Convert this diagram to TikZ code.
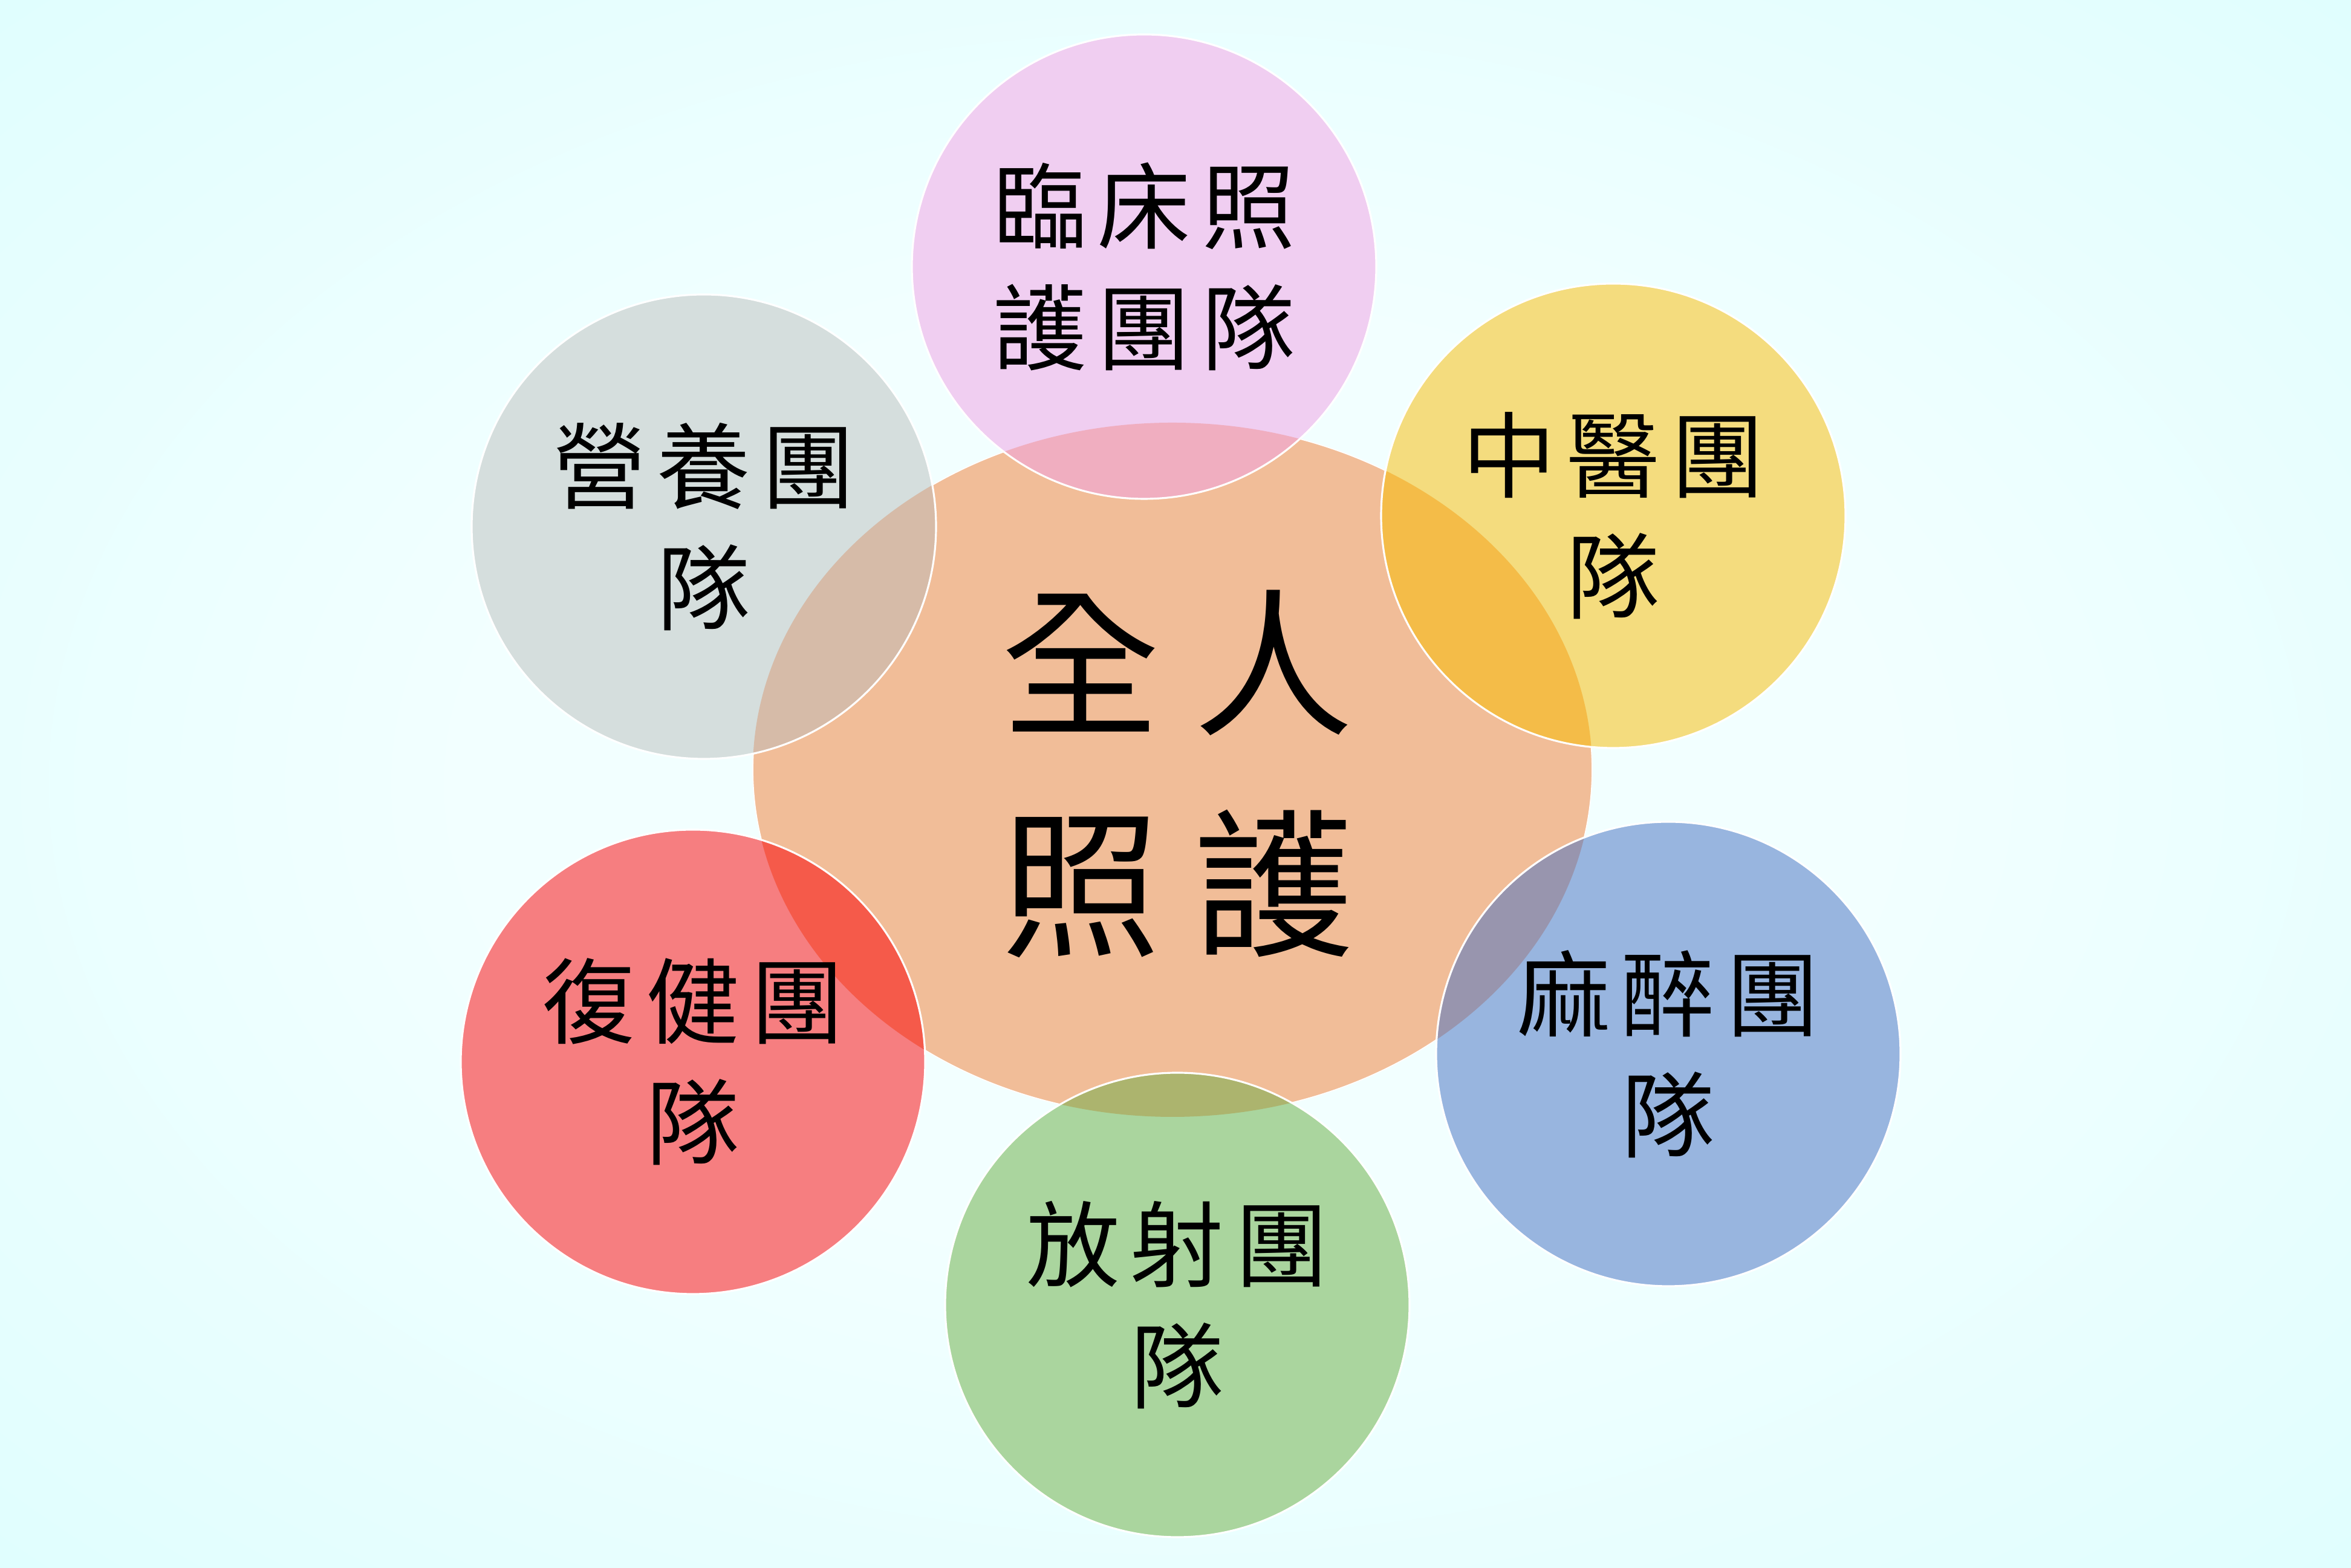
\documentclass[tikz,border=0pt]{standalone}
\usepackage{fontspec}
\newfontfamily\tcfont{Noto Sans CJK TC}
\usepackage{xcolor}
\definecolor{dnnennhat}{HTML}{F2FFFF}
\definecolor{dnnengiua}{HTML}{E2FEFE}
\definecolor{dnnenxanh}{HTML}{D5FEFE}
\definecolor{dncam}{HTML}{F1BD98}
\definecolor{dnhong}{HTML}{F0CEF1}
\definecolor{dnhongc}{HTML}{F0AEC0}
\definecolor{dnxam}{HTML}{D5DEDD}
\definecolor{dnxamc}{HTML}{D6BBA8}
\definecolor{dnvang}{HTML}{F4DC7E}
\definecolor{dnvangc}{HTML}{F4BC48}
\definecolor{dndo}{HTML}{F67E80}
\definecolor{dndoc}{HTML}{F55A4A}
\definecolor{dnlam}{HTML}{98B5DF}
\definecolor{dnlamc}{HTML}{9895AE}
\definecolor{dnluc}{HTML}{AAD59E}
\definecolor{dnlucc}{HTML}{ACB46E}
\usepackage{tikz}
\usetikzlibrary{calc,positioning}
\newcommand{\kc}{\hspace{0.18cm}}
\newcommand{\kl}{\hspace{0.55cm}}
\pgfdeclareradialshading{nenxanh}{\pgfpoint{0bp}{0bp}}{color(0bp)=(dnnennhat); color(15bp)=(dnnennhat); color(33bp)=(dnnengiua); color(47bp)=(dnnenxanh); color(75bp)=(dnnenxanh)}
\begin{document}
\begin{tikzpicture}[declare function={%
			rv=3.84;
			ra=6.94;
			rb=5.74;
			}
			]%
			\tikzset{
				vienlong/.style={draw=white,line width=0.9pt},
				chunho/.style={font=\tcfont\fontsize{44}{57}\selectfont,align=center,text=black},
				chulon/.style={font=\tcfont\fontsize{75}{104}\selectfont,align=center,text=black}
			}
		%%%Nen
		\useasboundingbox (0,0) rectangle (38.88,25.93);
		\shade[shading=nenxanh] (0,0) rectangle (38.88,25.93);
		%%%Hinh elip giua
		\coordinate (tam) at (19.39,13.20);
		\path[fill=dncam,vienlong,line width=0.5pt] (tam) ellipse [x radius=ra, y radius=rb];
		%%%Sau vong tron
		\foreach \ten/\x/\y/\mau/\chu in{%
			hong/18.92/21.52/dnhong/{臨\kc 床\kc 照\\護\kc 團\kc 隊},
			xam/11.64/17.22/dnxam/{營\kc 養\kc 團\\隊},
			vang/26.68/17.40/dnvang/{中\kc 醫\kc 團\\隊},
			do/11.46/8.37/dndo/{復\kc 健\kc 團\\隊},
			lam/27.59/8.50/dnlam/{麻\kc 醉\kc 團\\隊},
			luc/19.47/4.35/dnluc/{放\kc 射\kc 團\\隊}}{%
			\coordinate (\ten) at (\x,\y);
			\fill[\mau] (\ten) circle (rv);
			\begin{scope}
				\clip (tam) ellipse [x radius=ra, y radius=rb];
				\fill[\mau c] (\ten) circle (rv);
			\end{scope}
			\draw[vienlong] (\ten) circle (rv);
			\path (\ten) node[chunho] (chu\ten) {\chu};
		}
		%%%Chu giua
		\path ($(tam)+(0.08,-0.07)$) node[chulon] (toannhan) {全\kl 人\\照\kl 護};
	\end{tikzpicture}
\end{document}
